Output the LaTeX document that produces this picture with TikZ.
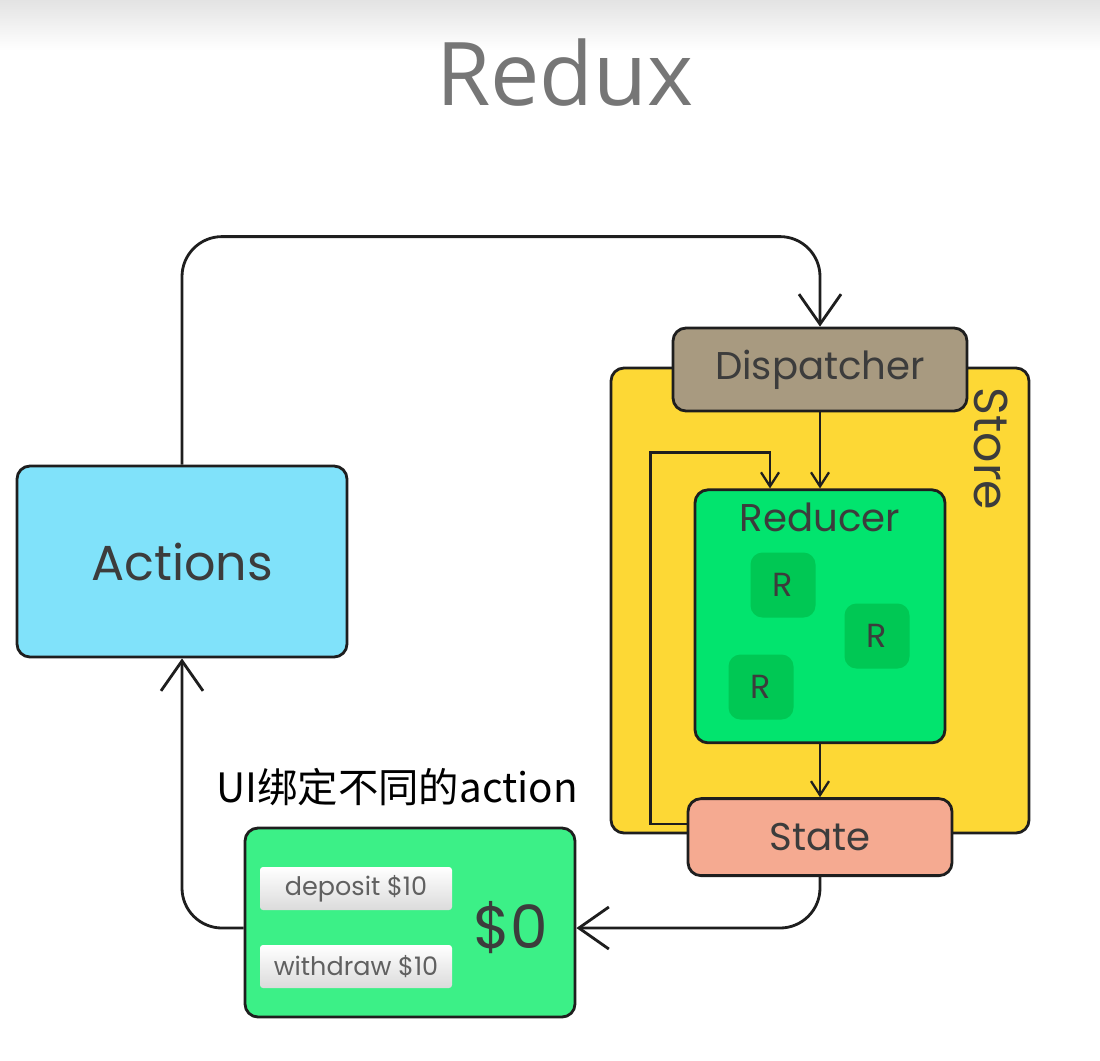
\documentclass[tikz,border=0pt]{standalone}
\usepackage{fontspec}
\setmainfont{Poppins}
\newfontfamily\titlefont{Open Sans}
\newfontfamily\cjk{Noto Sans CJK SC}
\usetikzlibrary{positioning,arrows.meta}
\definecolor{linedark}{RGB}{30,30,30}
\definecolor{labelgray}{RGB}{60,60,60}
\definecolor{titlegray}{RGB}{118,118,118}
\definecolor{actblue}{RGB}{128,226,250}
\definecolor{dispbrown}{RGB}{168,154,128}
\definecolor{storeyellow}{RGB}{253,216,53}
\definecolor{redgreen}{RGB}{2,228,110}
\definecolor{rgreen}{RGB}{0,200,84}
\definecolor{statesalmon}{RGB}{245,170,145}
\definecolor{uigreen}{RGB}{60,240,135}
\begin{document}
\begin{tikzpicture}[x=0.2mm, y=-0.2mm, line width=1.6pt,
  box/.style = {draw=linedark, rounded corners=2.6mm, inner sep=0pt, text=labelgray},
  rbox/.style = {fill=rgreen, rounded corners=2.4mm, minimum size=13mm, text=labelgray, font=\fontsize{19}{22}\selectfont},
  btn/.style = {top color=white, bottom color=gray!28, rounded corners=0.6mm, minimum width=38.4mm, minimum height=8.6mm, text=gray!75!black, font=\fontsize{14.5}{17}\selectfont},
  lbl/.style = {font=\fontsize{22}{26}\selectfont},
  bigtip/.style = {draw=linedark, -{Straight Barb[length=6mm,width=8.4mm]}},
  smalltip/.style = {draw=linedark, line width=1.3pt, -{Straight Barb[length=2.8mm,width=3.6mm]}}]
\useasboundingbox (0,0) rectangle (1100,1060);
\shade[top color=gray!22, bottom color=white] (0,0) rectangle (1100,50);
\node[text=titlegray, font=\titlefont\fontsize{50}{60}\selectfont] (title) at (565,73) {Redux};
% store
\node[box, fill=storeyellow, minimum width=83.6mm, minimum height=93mm] (store) at (820,600.5) {};
\node[text=labelgray, rotate=-90, font=\fontsize{27}{30}\selectfont] (storelabel) at (991,449) {Store};
\node[box, lbl, fill=dispbrown, minimum width=58.8mm, minimum height=16.6mm] (disp) at (820,369.5) {Dispatcher};
\node[box, fill=redgreen, minimum width=50mm, minimum height=50.6mm, below=15.2mm of disp] (red) {};
\node[lbl, text=labelgray] (redlabel) at ([yshift=-5.8mm]red.north) {Reducer};
\node[rbox] (r1) at (783,585) {R};
\node[rbox] (r2) at (877,636) {R};
\node[rbox] (r3) at (761,687) {R};
\node[box, lbl, fill=statesalmon, minimum width=52.8mm, minimum height=15.4mm, below=10.6mm of red] (state) {State};
% view
\node[box, fill=actblue, minimum width=66mm, minimum height=38.2mm, font=\fontsize{28}{32}\selectfont] (act) at (182,561.5) {Actions};
\node[box, fill=uigreen, minimum width=66mm, minimum height=37.8mm] (ui) at (410,922.5) {};
\node[btn] (dep) at (356,888.5) {deposit \$10};
\node[btn] (wd) at (356,966.5) {withdraw \$10};
\node[text=labelgray, font=\fontsize{34}{40}\selectfont] (money) at (511,928) {\$0};
\node[font=\cjk\fontsize{23}{28}\selectfont] (uitext) at (397,787) {UI绑定不同的action};
% flow
\draw[bigtip, rounded corners=8mm] (act.north) -- ++(0,-228) -| (disp.north);
\draw[smalltip] (disp.south) -- (red.north);
\draw[smalltip] (red.south) -- (state.north);
\draw[smalltip] ([yshift=2.7mm]state.west) -- ++(-36,0) |- ([xshift=-10mm,yshift=7.2mm]red.north) -- ([xshift=-10mm]red.north);
\draw[bigtip, rounded corners=8mm] (state.south) |- ([yshift=-1.1mm]ui.east);
\draw[bigtip, rounded corners=8mm] ([yshift=-1.1mm]ui.west) -| (act.south);
\end{tikzpicture}
\end{document}
